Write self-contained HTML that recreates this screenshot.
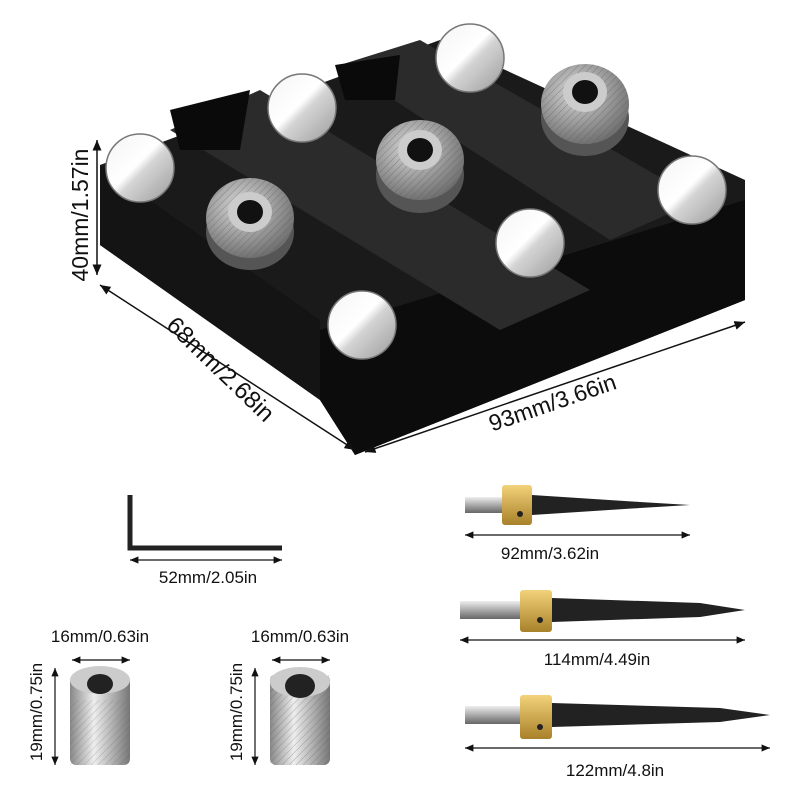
<!DOCTYPE html>
<html><head><meta charset="utf-8"><style>
html,body{margin:0;padding:0;background:#fff;}
svg{display:block}
text{font-family:"Liberation Sans",sans-serif;fill:#111;}
</style></head><body>
<svg width="800" height="800" viewBox="0 0 800 800" xmlns="http://www.w3.org/2000/svg">
<defs>
<linearGradient id="pad" x1="0" y1="0" x2="1" y2="1"><stop offset="0" stop-color="#f4f4f4"/><stop offset="0.45" stop-color="#ffffff"/><stop offset="0.55" stop-color="#d4d4d4"/><stop offset="1" stop-color="#9a9a9a"/></linearGradient>
<radialGradient id="knurl" cx="40%" cy="35%" r="70%"><stop offset="0" stop-color="#d8d8d8"/><stop offset="1" stop-color="#6a6a6a"/></radialGradient>
<linearGradient id="cyl" x1="0" x2="1"><stop offset="0" stop-color="#888"/><stop offset="0.4" stop-color="#eee"/><stop offset="1" stop-color="#777"/></linearGradient>
<linearGradient id="brass" x1="0" y1="0" x2="0" y2="1"><stop offset="0" stop-color="#f2d27a"/><stop offset="1" stop-color="#a8812a"/></linearGradient>
<linearGradient id="shank" x1="0" y1="0" x2="0" y2="1"><stop offset="0" stop-color="#eee"/><stop offset="0.5" stop-color="#aaa"/><stop offset="1" stop-color="#666"/></linearGradient>
<pattern id="kn" width="5" height="5" patternUnits="userSpaceOnUse" patternTransform="rotate(45)"><rect width="5" height="5" fill="none"/><line x1="0" y1="0" x2="0" y2="5" stroke="#555" stroke-width="1"/></pattern>
<marker id="ar" markerWidth="8" markerHeight="8" refX="7" refY="4" orient="auto-start-reverse"><path d="M0,1 L7,4 L0,7 Z" fill="#111"/></marker>
</defs>

<!-- jig body -->
<polygon points="100,165 330,80 440,40 745,180 745,300 355,455 320,400 100,245" fill="#1a1a1a"/>
<polygon points="320,330 745,200 745,300 355,455 320,400" fill="#0c0c0c"/>
<polygon points="100,165 320,320 320,400 100,245" fill="#141414"/>
<polygon points="170,130 260,90 590,290 500,330" fill="#2b2b2b"/>
<polygon points="340,65 420,40 700,200 610,240" fill="#2b2b2b"/>
<polygon points="170,110 250,90 240,150 180,150" fill="#0a0a0a"/>
<polygon points="335,65 400,55 395,100 345,100" fill="#0a0a0a"/>
<!-- pads -->
<g stroke="#777" stroke-width="1.5">
<circle cx="140" cy="168" r="34" fill="url(#pad)"/>
<circle cx="302" cy="108" r="34" fill="url(#pad)"/>
<circle cx="470" cy="58" r="34" fill="url(#pad)"/>
<circle cx="362" cy="325" r="34" fill="url(#pad)"/>
<circle cx="530" cy="243" r="34" fill="url(#pad)"/>
<circle cx="692" cy="190" r="34" fill="url(#pad)"/>
</g>
<!-- knurled bushings -->
<g><ellipse cx="250" cy="232" rx="44" ry="38" fill="#555"/><ellipse cx="250" cy="218" rx="44" ry="40" fill="url(#knurl)"/><ellipse cx="250" cy="218" rx="44" ry="40" fill="url(#kn)" opacity="0.5"/><ellipse cx="250" cy="212" rx="22" ry="20" fill="#ccc"/><ellipse cx="250" cy="212" rx="13" ry="12" fill="#111"/></g>
<g><ellipse cx="420" cy="175" rx="44" ry="38" fill="#555"/><ellipse cx="420" cy="160" rx="44" ry="40" fill="url(#knurl)"/><ellipse cx="420" cy="160" rx="44" ry="40" fill="url(#kn)" opacity="0.5"/><ellipse cx="420" cy="150" rx="22" ry="20" fill="#ccc"/><ellipse cx="420" cy="150" rx="13" ry="12" fill="#111"/></g>
<g><ellipse cx="585" cy="118" rx="44" ry="38" fill="#555"/><ellipse cx="585" cy="104" rx="44" ry="40" fill="url(#knurl)"/><ellipse cx="585" cy="104" rx="44" ry="40" fill="url(#kn)" opacity="0.5"/><ellipse cx="585" cy="92" rx="22" ry="20" fill="#ccc"/><ellipse cx="585" cy="92" rx="13" ry="12" fill="#111"/></g>

<!-- dimension lines -->
<g stroke="#111" stroke-width="1.5" fill="none" marker-start="url(#ar)" marker-end="url(#ar)">
<line x1="97" y1="140" x2="97" y2="275"/>
<line x1="100" y1="285" x2="355" y2="450"/>
<line x1="365" y1="452" x2="745" y2="322"/>
</g>
<text x="88" y="215" font-size="23" text-anchor="middle" transform="rotate(-90 88 215)">40mm/1.57in</text>
<text x="215" y="375" font-size="24" text-anchor="middle" transform="rotate(44 215 375)">68mm/2.68in</text>
<text x="555" y="410" font-size="23" text-anchor="middle" transform="rotate(-19 555 410)">93mm/3.66in</text>

<!-- allen key -->
<path d="M130,495 L130,548 L282,548" stroke="#222" stroke-width="5" fill="none"/>
<line x1="130" y1="560" x2="282" y2="560" stroke="#111" stroke-width="1.2" marker-start="url(#ar)" marker-end="url(#ar)"/>
<text x="208" y="583" font-size="17" text-anchor="middle">52mm/2.05in</text>

<!-- bushings bottom -->
<g>
<text x="100" y="642" font-size="17" text-anchor="middle">16mm/0.63in</text>
<line x1="72" y1="660" x2="130" y2="660" stroke="#111" stroke-width="1.2" marker-start="url(#ar)" marker-end="url(#ar)"/>
<rect x="70" y="675" width="60" height="90" rx="6" fill="url(#cyl)"/>
<rect x="70" y="700" width="60" height="65" fill="url(#kn)" opacity="0.3"/>
<ellipse cx="100" cy="680" rx="30" ry="14" fill="#ccc"/><ellipse cx="100" cy="684" rx="13" ry="10" fill="#222"/>
<line x1="55" y1="668" x2="55" y2="765" stroke="#111" stroke-width="1.2" marker-start="url(#ar)" marker-end="url(#ar)"/>
<text x="42" y="712" font-size="17" text-anchor="middle" transform="rotate(-90 42 712)">19mm/0.75in</text>
</g>
<g>
<text x="300" y="642" font-size="17" text-anchor="middle">16mm/0.63in</text>
<line x1="272" y1="660" x2="330" y2="660" stroke="#111" stroke-width="1.2" marker-start="url(#ar)" marker-end="url(#ar)"/>
<rect x="270" y="675" width="60" height="90" rx="6" fill="url(#cyl)"/>
<rect x="270" y="675" width="60" height="90" fill="url(#kn)" opacity="0.4"/>
<ellipse cx="300" cy="682" rx="30" ry="15" fill="#ccc"/><ellipse cx="300" cy="686" rx="15" ry="12" fill="#222"/>
<line x1="255" y1="668" x2="255" y2="765" stroke="#111" stroke-width="1.2" marker-start="url(#ar)" marker-end="url(#ar)"/>
<text x="242" y="712" font-size="17" text-anchor="middle" transform="rotate(-90 242 712)">19mm/0.75in</text>
</g>

<!-- drill bits -->
<g>
<rect x="465" y="497" width="40" height="16" fill="url(#shank)"/>
<rect x="502" y="485" width="30" height="40" rx="3" fill="url(#brass)"/>
<circle cx="520" cy="514" r="3" fill="#222"/>
<polygon points="532,495 640,502 690,505 640,508 532,515" fill="#222"/>
<line x1="465" y1="535" x2="690" y2="535" stroke="#111" stroke-width="1.2" marker-start="url(#ar)" marker-end="url(#ar)"/>
<text x="550" y="559" font-size="17" text-anchor="middle">92mm/3.62in</text>
</g>
<g>
<rect x="460" y="601" width="62" height="18" fill="url(#shank)"/>
<rect x="520" y="590" width="32" height="42" rx="3" fill="url(#brass)"/>
<circle cx="540" cy="620" r="3" fill="#222"/>
<polygon points="552,598 700,603 745,610 700,617 552,622" fill="#222"/>
<line x1="460" y1="640" x2="745" y2="640" stroke="#111" stroke-width="1.2" marker-start="url(#ar)" marker-end="url(#ar)"/>
<text x="597" y="665" font-size="17" text-anchor="middle">114mm/4.49in</text>
</g>
<g>
<rect x="465" y="706" width="58" height="18" fill="url(#shank)"/>
<rect x="520" y="695" width="32" height="44" rx="3" fill="url(#brass)"/>
<circle cx="540" cy="727" r="3" fill="#222"/>
<polygon points="552,703 720,708 770,715 720,722 552,727" fill="#222"/>
<line x1="465" y1="748" x2="770" y2="748" stroke="#111" stroke-width="1.2" marker-start="url(#ar)" marker-end="url(#ar)"/>
<text x="615" y="776" font-size="17" text-anchor="middle">122mm/4.8in</text>
</g>
</svg>
</body></html>
